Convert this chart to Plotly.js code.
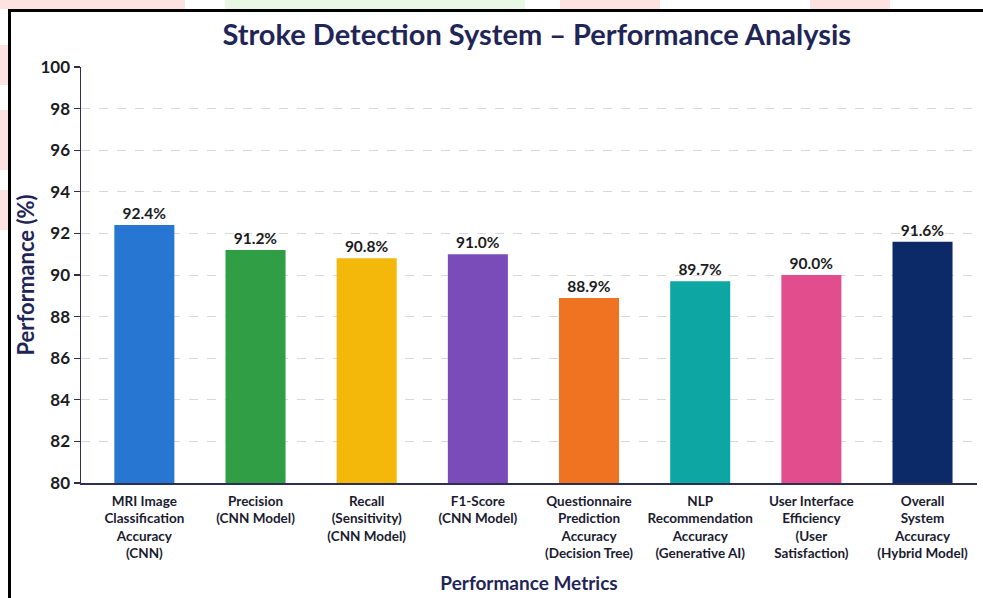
<!DOCTYPE html>
<html>
<head>
<meta charset="utf-8">
<script src="https://cdn.plot.ly/plotly-3.0.1.min.js"></script>
<style>
  html, body { margin: 0; padding: 0; background: #ffffff; overflow: hidden; }
  #wrap { position: relative; width: 983px; height: 598px; }
  #chart { position: absolute; left: 0; top: 0; width: 983px; height: 598px; }
  .deco { position: absolute; pointer-events: none; }
</style>
</head>
<body>
<div id="wrap">
  <div id="chart"></div>
  <div class="deco" style="left:0;top:0;width:185px;height:9px;background:#fde2e2;"></div>
  <div class="deco" style="left:225px;top:0;width:300px;height:9px;background:#e9f8e4;"></div>
  <div class="deco" style="left:560px;top:0;width:100px;height:9px;background:#fde2e2;"></div>
  <div class="deco" style="left:810px;top:0;width:80px;height:9px;background:#fde2e2;"></div>
  <div class="deco" style="left:0;top:45px;width:8px;height:40px;background:#fde2e2;"></div>
  <div class="deco" style="left:0;top:110px;width:8px;height:60px;background:#fde2e2;"></div>
  <div class="deco" style="left:0;top:190px;width:8px;height:40px;background:#fde2e2;"></div>
  <div class="deco" style="left:8px;top:9px;width:983px;height:600px;border-left:3px solid #000;border-top:3px solid #000;"></div>
</div>
<script>
const categories = [
  "MRI Image<br>Classification<br>Accuracy<br>(CNN)",
  "Precision<br>(CNN Model)",
  "Recall<br>(Sensitivity)<br>(CNN Model)",
  "F1-Score<br>(CNN Model)",
  "Questionnaire<br>Prediction<br>Accuracy<br>(Decision Tree)",
  "NLP<br>Recommendation<br>Accuracy<br>(Generative AI)",
  "User Interface<br>Efficiency<br>(User<br>Satisfaction)",
  "Overall<br>System<br>Accuracy<br>(Hybrid Model)"
];
const values = [92.4, 91.2, 90.8, 91.0, 88.9, 89.7, 90.0, 91.6];
const valueLabels = ["92.4%", "91.2%", "90.8%", "91.0%", "88.9%", "89.7%", "90.0%", "91.6%"];
const barColors = ["#2676d2", "#2f9e45", "#f3b80a", "#7a4cb9", "#f07322", "#0ea6a3", "#e24d8e", "#0c2a68"];
const yTicks = [80, 82, 84, 86, 88, 90, 92, 94, 96, 98, 100];

const navy = "#1f2657";
const axisCol = "#2c2f52";
const FONT = "Lato, 'Open Sans', sans-serif";

const trace = {
  type: "bar",
  x: categories,
  y: values,
  base: 0,
  marker: { color: barColors, line: { width: 0 } },
  text: valueLabels,
  textposition: "outside",
  cliponaxis: false,
  textfont: { family: FONT, size: 15.5, color: "#1b1b22", weight: 700 },
  hoverinfo: "skip"
};

const layout = {
  width: 983,
  height: 598,
  margin: { l: 81, r: 6, t: 67, b: 115 },
  paper_bgcolor: "rgba(0,0,0,0)",
  plot_bgcolor: "rgba(0,0,0,0)",
  showlegend: false,
  bargap: 0.46,
  font: { family: FONT, color: "#1b1b22" },
  title: {
    text: "<b>Stroke Detection System – Performance Analysis</b>",
    font: { family: FONT, size: 29, color: navy },
    xref: "container", yref: "container",
    x: 0.546, xanchor: "center",
    y: 1 - 35 / 598, yanchor: "middle"
  },
  xaxis: {
    type: "category",
    range: [-0.57, 7.49],
    showline: true,
    linecolor: axisCol,
    linewidth: 1.5,
    ticks: "",
    ticklabelstandoff: 5,
    showgrid: false,
    tickfont: { family: FONT, size: 13.5, color: "#1b1b30", weight: 700 },
    automargin: false,
    title: {
      text: "<b>Performance Metrics</b>",
      font: { family: FONT, size: 19, color: navy },
      standoff: 16
    }
  },
  yaxis: {
    range: [80, 100],
    tickvals: yTicks,
    ticktext: yTicks.map(String),
    showline: true,
    linecolor: axisCol,
    linewidth: 1.5,
    ticks: "outside",
    ticklen: 6,
    tickcolor: axisCol,
    tickwidth: 1.2,
    showgrid: true,
    gridcolor: "#d8d8d8",
    griddash: "dash",
    gridwidth: 1,
    zeroline: false,
    automargin: false,
    tickfont: { family: FONT, size: 17, color: "#1b1b22", weight: 700 },
    title: {
      text: "<b>Performance (%)</b>",
      font: { family: FONT, size: 22, color: navy },
      standoff: 0
    }
  }
};

Plotly.newPlot("chart", [trace], layout, { displayModeBar: false, staticPlot: true });
</script>
</body>
</html>
